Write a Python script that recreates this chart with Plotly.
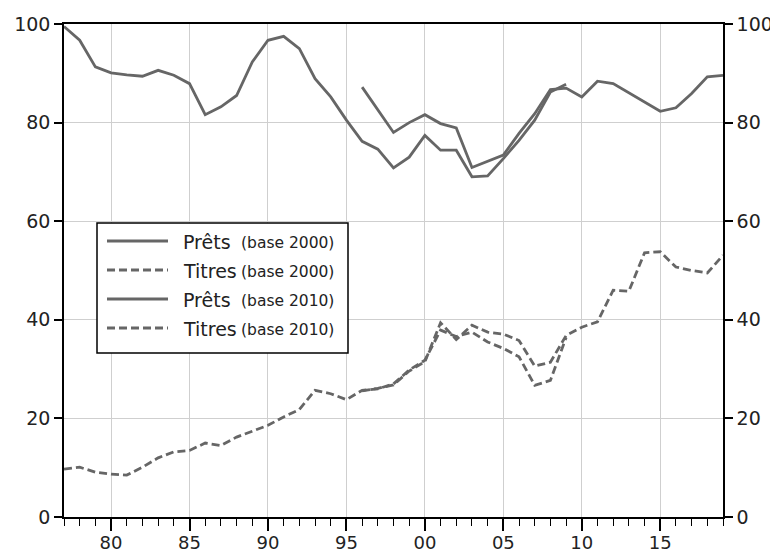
import plotly.graph_objects as go

# ---------------- data ----------------
years_2000 = list(range(1977, 2010))
prets_2000 = [99.5, 96.7, 91.3, 90.1, 89.7, 89.4, 90.6, 89.6, 87.9, 81.6,
              83.2, 85.5, 92.3, 96.7, 97.5, 95.0, 88.9, 85.2, 80.5, 76.2,
              74.6, 70.8, 73.0, 77.4, 74.4, 74.4, 69.0, 69.2, 72.7, 76.4,
              80.5, 86.2, 87.8]
titres_2000 = [9.7, 10.1, 9.1, 8.7, 8.5, 10.1, 12.0, 13.2, 13.5, 15.0,
               14.5, 16.2, 17.4, 18.6, 20.3, 21.8, 25.7, 25.0, 23.8, 25.7,
               26.0, 27.0, 29.8, 31.8, 37.9, 36.6, 37.5, 35.5, 34.2, 32.5,
               26.7, 27.7, 36.4]

years_2010 = list(range(1996, 2020))
prets_2010 = [87.2, 82.5, 78.0, 80.0, 81.6, 79.8, 78.9, 70.9, 72.2, 73.4,
              77.8, 81.8, 86.7, 87.0, 85.2, 88.4, 87.9, 86.0, 84.2, 82.3,
              83.0, 85.9, 89.3, 89.6]
titres_2010 = [25.6, 26.1, 26.8, 29.6, 31.5, 39.4, 36.0, 38.9, 37.5, 37.1,
               35.8, 30.6, 31.4, 36.8, 38.5, 39.6, 46.0, 45.8, 53.6, 53.8,
               50.7, 50.0, 49.5, 53.1]

x_tickvals = [1980, 1985, 1990, 1995, 2000, 2005, 2010, 2015]
x_ticktext = ["80", "85", "90", "95", "00", "05", "10", "15"]
y_tickvals = [0, 20, 40, 60, 80, 100]

legend_names = ["Prêts", "Titres", "Prêts", "Titres"]
legend_bases = ["(base 2000)", "(base 2000)", "(base 2010)", "(base 2010)"]
legend_dash = ["solid", "8px,4px", "solid", "8px,4px"]

# ---------------- style ----------------
LINE_COLOR = "#666666"
LW = 2.8
DASH = "8px,4px"
FONT = "DejaVu Sans"
TXT = "#222222"

OFF = 8                      # page body margin
W, H = 770, 548
PL, PR, PT, PB = 64, 723, 24, 517   # plot area in page pixels
ML, MR, MT, MB = PL - OFF, W - (PR - OFF), PT - OFF, H - (PB - OFF)
PW, PH = PR - PL, PB - PT


def px(xp):
    return (xp - PL) / PW


def py(yp):
    return (PB - yp) / PH


fig = go.Figure()
fig.add_trace(go.Scatter(x=years_2000, y=prets_2000, mode="lines",
                         line=dict(color=LINE_COLOR, width=LW), showlegend=False))
fig.add_trace(go.Scatter(x=years_2000, y=titres_2000, mode="lines",
                         line=dict(color=LINE_COLOR, width=LW, dash=DASH), showlegend=False))
fig.add_trace(go.Scatter(x=years_2010, y=prets_2010, mode="lines", yaxis="y2",
                         line=dict(color=LINE_COLOR, width=LW), showlegend=False))
fig.add_trace(go.Scatter(x=years_2010, y=titres_2010, mode="lines", yaxis="y2",
                         line=dict(color=LINE_COLOR, width=LW, dash=DASH), showlegend=False))

axis_common = dict(showline=True, linecolor="black", linewidth=1.5,
                   tickcolor="black", tickwidth=1.5, ticks="outside", zeroline=False)

fig.update_layout(
    width=W, height=H,
    margin=dict(l=ML, r=MR, t=MT, b=MB, autoexpand=False),
    paper_bgcolor="white", plot_bgcolor="white",
    showlegend=False,
    xaxis=dict(range=[1977, 2019], tickvals=x_tickvals, ticktext=x_ticktext,
               ticklen=12, mirror=True, showgrid=True, gridcolor="#cfcfcf", gridwidth=1,
               ticklabelstandoff=-3,
               tickfont=dict(family=FONT, size=18, color=TXT),
               minor=dict(dtick=1, tick0=1977, ticks="outside", ticklen=7,
                          tickcolor="black", tickwidth=1.2, showgrid=False),
               **axis_common),
    yaxis=dict(range=[0, 100], tickvals=y_tickvals, ticklen=8, mirror=True,
               tickfont=dict(family=FONT, size=19, color=TXT),
               showgrid=True, gridcolor="#cfcfcf", gridwidth=1, **axis_common),
    yaxis2=dict(range=[0, 100], tickvals=y_tickvals, ticklen=8, overlaying="y",
                tickfont=dict(family=FONT, size=19, color=TXT),
                side="right", showgrid=False, **axis_common),
)

# ---------------- legend box (drawn manually) ----------------
shapes = [dict(type="rect", xref="paper", yref="paper",
               x0=px(97), x1=px(348), y0=py(223), y1=py(353),
               line=dict(color="black", width=1.5), fillcolor="white", layer="above")]
annotations = []
row_y = [241, 270, 299, 328]
for i, yy in enumerate(row_y):
    shapes.append(dict(type="line", xref="paper", yref="paper",
                       x0=px(107), x1=px(168), y0=py(yy), y1=py(yy),
                       line=dict(color=LINE_COLOR, width=LW, dash=legend_dash[i]),
                       layer="above"))
    annotations.append(dict(xref="paper", yref="paper", x=px(181), y=py(yy + 1),
                            xanchor="left", yanchor="middle", showarrow=False,
                            text=legend_names[i],
                            font=dict(family=FONT, size=19, color=TXT)))
    annotations.append(dict(xref="paper", yref="paper", x=px(239), y=py(yy + 2),
                            xanchor="left", yanchor="middle", showarrow=False,
                            text=legend_bases[i],
                            font=dict(family=FONT, size=15.5, color=TXT)))

fig.update_layout(shapes=shapes, annotations=annotations)

fig.write_html("out.html")
